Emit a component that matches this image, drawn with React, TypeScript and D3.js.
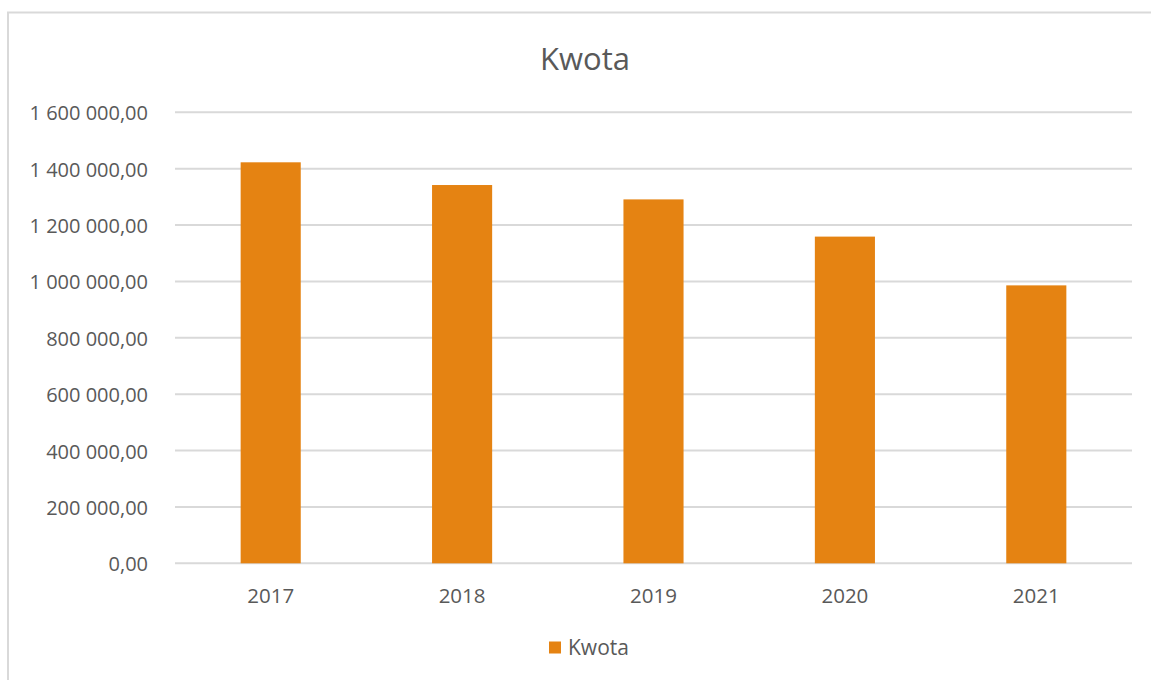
import React from "react";
import * as d3 from "d3";

const categories = ["2017", "2018", "2019", "2020", "2021"];
const values = [1422600, 1342000, 1291000, 1159000, 986000];
const yTicks = [0, 200000, 400000, 600000, 800000, 1000000, 1200000, 1400000, 1600000];
const seriesName = "Kwota";
const title = "Kwota";

const W = 1151;
const H = 680;
const FONT = "'Open Sans', 'Liberation Sans', sans-serif";
const TEXT = "#595959";
const GRID = "#d9d9d9";
const BAR = "#e58312";

const fmt = (v: number) => {
  const [i, d] = v.toFixed(2).split(".");
  return i.replace(/\B(?=(\d{3})+(?!\d))/g, " ") + "," + d;
};

export default function App() {
  const x = d3.scaleBand<string>().domain(categories).range([175, 1132]).paddingInner(0.686).paddingOuter(0.343);
  const y = d3.scaleLinear().domain([0, 1600000]).range([563.3, 112.3]);

  return (
    <svg width={W} height={H} style={{ position: "absolute", left: 0, top: 0, background: "#fff" }}>
      <rect x={8} y={12.5} width={1160} height={700} fill="#fff" stroke={GRID} strokeWidth={2} />
      <text x={585} y={69.5} textAnchor="middle" fontFamily={FONT} fontSize={31} fill={TEXT}>{title}</text>
      {yTicks.map((t) => (
        <g key={t}>
          <line x1={175} x2={1132} y1={y(t)} y2={y(t)} stroke={GRID} strokeWidth={2} />
          <text x={148} y={y(t) + 8} textAnchor="end" fontFamily={FONT} fontSize={20} fill={TEXT}>{fmt(t)}</text>
        </g>
      ))}
      {categories.map((c, i) => (
        <g key={c}>
          <rect x={x(c)!} y={y(values[i])} width={x.bandwidth()} height={y(0) - y(values[i])} fill={BAR} />
          <text x={x(c)! + x.bandwidth() / 2} y={603} textAnchor="middle" fontFamily={FONT} fontSize={20.5} fill={TEXT}>{c}</text>
        </g>
      ))}
      <rect x={549} y={641.5} width={12} height={12} fill={BAR} />
      <text x={568} y={654.5} fontFamily={FONT} fontSize={21} fill={TEXT}>{seriesName}</text>
    </svg>
  );
}
